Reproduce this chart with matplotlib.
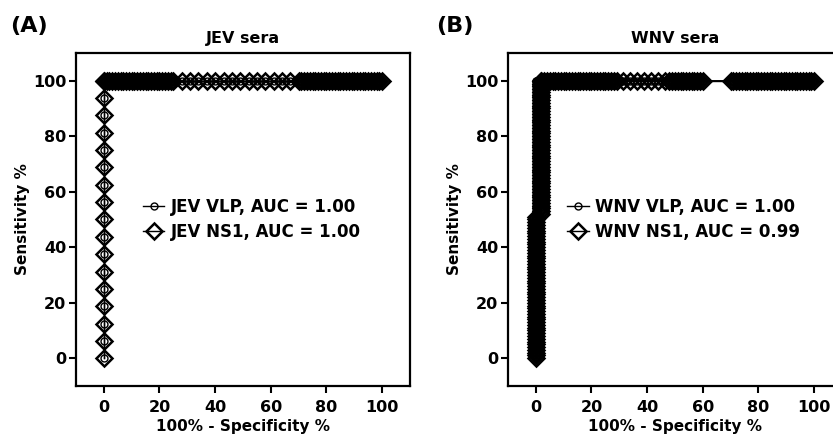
import numpy as np
import matplotlib
matplotlib.use("Agg")
import matplotlib.pyplot as plt

plt.rcParams['font.family'] = ['DejaVu Sans']
plt.rcParams['font.weight'] = 'bold'

# JEV panel: sensitivity steps at fpr 0, then the row at sensitivity 100
jev_sens = [0, 6.25, 12.5, 18.75, 25, 31.25, 37.5, 43.75, 50, 56.25, 62.5,
            68.75, 75, 81.25, 87.5, 93.75, 100]
jev_top_fpr = [0, 1, 2, 3, 4, 5, 6, 7, 8, 9, 10, 11, 12, 13, 14, 15, 16, 17,
               18, 19, 20, 21, 22, 23, 24, 25, 28, 31, 34, 37, 40, 43, 46,
               49, 52, 55, 58, 61, 64, 67, 70, 71, 72, 73, 74, 75, 76, 77,
               78, 79, 80, 81, 82, 83, 84, 85, 86, 87, 88, 89, 90, 91, 92,
               93, 94, 95, 96, 97, 98, 99, 100]

# WNV panel
wnv_vlp_sens = [0, 1, 2, 3, 4, 5, 6, 7, 8, 9, 10, 11, 12, 13, 14, 15, 16, 17,
                18, 19, 20, 21, 22, 23, 24, 25, 26, 27, 28, 29, 30, 31, 32,
                33, 34, 35, 36, 37, 38, 39, 40, 41, 42, 43, 44, 45, 46, 47,
                48, 49, 50, 51, 52, 53, 54, 55, 56, 57, 58, 59, 60, 61, 62,
                63, 64, 65, 66, 67, 68, 69, 70, 71, 72, 73, 74, 75, 76, 77,
                78, 79, 80, 81, 82, 83, 84, 85, 86, 87, 88, 89, 90, 91, 92,
                93, 94, 95, 96, 97, 98, 99, 100]
wnv_ns1_sens_low = [0, 1, 2, 3, 4, 5, 6, 7, 8, 9, 10, 11, 12, 13, 14, 15, 16,
                    17, 18, 19, 20, 21, 22, 23, 24, 25, 26, 27, 28, 29, 30,
                    31, 32, 33, 34, 35, 36, 37, 38, 39, 40, 41, 42, 43, 44,
                    45, 46, 47, 48, 49, 50, 51]
wnv_ns1_sens_high = [52, 53, 54, 55, 56, 57, 58, 59, 60, 61, 62, 63, 64, 65,
                     66, 67, 68, 69, 70, 71, 72, 73, 74, 75, 76, 77, 78, 79,
                     80, 81, 82, 83, 84, 85, 86, 87, 88, 89, 90, 91, 92, 93,
                     94, 95, 96, 97, 98, 99, 100]
wnv_ns1_step_fpr = 2
wnv_top_fpr = [0, 1, 2, 3, 4, 5, 6, 7, 8, 9, 10, 11, 12, 13, 14, 15, 16, 17,
               18, 19, 20, 21, 22, 23, 24, 25, 26, 27, 28, 29, 31.5, 34, 36.5,
               39, 41.5, 44, 46.5, 48, 49, 50, 51, 52, 53, 54, 55, 56, 57, 58,
               59, 60, 70, 71, 72, 73, 74, 75, 76, 77, 78, 79, 80, 81, 82, 83,
               84, 85, 86, 87, 88, 89, 90, 91, 92, 93, 94, 95, 96, 97, 98, 99,
               100]

ticks = [0, 20, 40, 60, 80, 100]

fig = plt.figure(figsize=(8.33, 4.36), dpi=100)
axA = fig.add_axes([0.0912, 0.1147, 0.401, 0.7638])
axB = fig.add_axes([0.6098, 0.1147, 0.401, 0.7638])

circ = dict(marker='o', ms=5, mfc='none', mec='black', mew=1.0,
            color='black', lw=1.0)
diam = dict(marker='D', ms=8, mfc='none', mec='black', mew=1.8,
            color='black', lw=1.0)

# (A) JEV
x_jev = [0] * len(jev_sens) + jev_top_fpr
y_jev = jev_sens + [100] * len(jev_top_fpr)
axA.plot(x_jev, y_jev, label='JEV VLP, AUC = 1.00', **circ)
axA.plot(x_jev, y_jev, label='JEV NS1, AUC = 1.00', **diam)

# (B) WNV
x_vlp = [0] * len(wnv_vlp_sens) + wnv_top_fpr
y_vlp = wnv_vlp_sens + [100] * len(wnv_top_fpr)
ns1_top = [v for v in wnv_top_fpr if v >= wnv_ns1_step_fpr]
x_ns1 = ([0] * len(wnv_ns1_sens_low) + [wnv_ns1_step_fpr] * len(wnv_ns1_sens_high)
         + ns1_top)
y_ns1 = wnv_ns1_sens_low + wnv_ns1_sens_high + [100] * len(ns1_top)
axB.plot(x_vlp, y_vlp, label='WNV VLP, AUC = 1.00', **circ)
axB.plot(x_ns1, y_ns1, label='WNV NS1, AUC = 0.99', **diam)

for ax, title, lx in [(axA, 'JEV sera', 0.2), (axB, 'WNV sera', 0.177)]:
    ax.set_xlim(-10, 110)
    ax.set_ylim(-10, 110)
    ax.set_xticks(ticks)
    ax.set_yticks(ticks)
    ax.tick_params(direction='out', length=5, width=1.5, labelsize=11.5)
    ax.tick_params(axis='x', pad=5)
    ax.tick_params(axis='y', pad=2)
    for t in ax.get_xticklabels() + ax.get_yticklabels():
        t.set_fontweight('bold')
    for s in ax.spines.values():
        s.set_linewidth(1.6)
    ax.set_title(title, fontsize=11.5, fontweight='bold', pad=7)
    ax.set_xlabel('100% - Specificity %', fontsize=11, fontweight='bold',
                  labelpad=3)
    ax.set_ylabel('Sensitivity %', fontsize=11, fontweight='bold', labelpad=2)
    leg = ax.legend(loc='center left', bbox_to_anchor=(lx, 0.5), frameon=False,
                    handlelength=1.3, handletextpad=0.4,
                    borderpad=0, borderaxespad=0, labelspacing=0.45,
                    prop={'weight': 'bold', 'size': 12})

fig.text(0.012, 0.94, '(A)', fontsize=16, fontweight='bold', va='center')
fig.text(0.523, 0.94, '(B)', fontsize=16, fontweight='bold', va='center')

fig.savefig('out.png', dpi=100)
